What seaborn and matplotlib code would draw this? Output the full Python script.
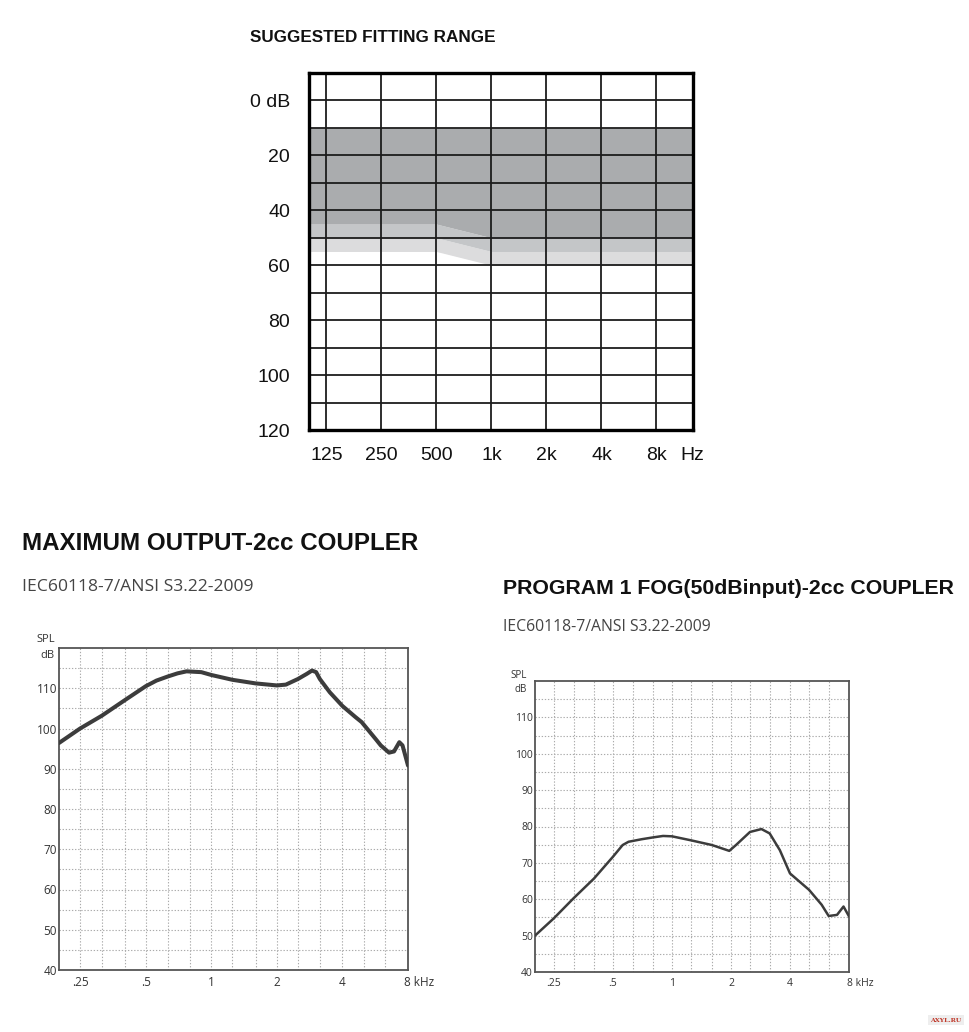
import numpy as np
import pandas as pd
import matplotlib
matplotlib.use('Agg')
import matplotlib.pyplot as plt
from matplotlib.ticker import NullLocator
import seaborn as sns

# ---------------- data ----------------
aud_freqs = [125, 250, 500, 1000, 2000, 4000, 8000]
aud_freq_labels = ['125', '250', '500', '1k', '2k', '4k', '8k']
aud_db_ticks = [0, 20, 40, 60, 80, 100, 120]
aud_db_labels = ['0 dB', '20', '40', '60', '80', '100', '120']
aud_db_lines = [0, 10, 20, 30, 40, 50, 60, 70, 80, 90, 100, 110]

# suggested fitting range (dB HL) per audiogram frequency
range_top = [10, 10, 10, 10, 10, 10, 10]
range_dark = [45, 45, 45, 50, 50, 50, 50]
range_mid = [50, 50, 50, 55, 55, 55, 55]
range_light = [55, 55, 55, 60, 60, 60, 60]

# maximum output (kHz, dB SPL)
mo_freq = [0.2, 0.25, 0.315, 0.4, 0.5, 0.56, 0.63, 0.7, 0.77, 0.9, 1.0, 1.25,
           1.6, 2.0, 2.2, 2.5, 2.75, 2.9, 3.03, 3.15, 3.5, 4.0, 4.6, 4.9, 5.7,
           6.0, 6.55, 6.9, 7.3, 7.55, 8.0]
mo_db = [96.4, 100.0, 103.2, 107.0, 110.5, 111.9, 112.9, 113.7, 114.2, 114.0,
         113.3, 112.1, 111.2, 110.7, 110.9, 112.3, 113.6, 114.4, 114.0, 112.3,
         109.0, 105.6, 102.8, 101.6, 97.3, 95.8, 94.0, 94.3, 96.6, 95.8, 90.8]

# program 1 FOG (50 dB input)
fog_freq = [0.2, 0.25, 0.315, 0.4, 0.5, 0.56, 0.6, 0.7, 0.8, 0.9, 1.0, 1.25,
            1.6, 1.96, 2.12, 2.5, 2.86, 3.15, 3.55, 4.0, 5.0, 5.8, 6.3, 6.95,
            7.5, 8.0]
fog_db = [50.0, 54.8, 60.3, 65.7, 71.7, 74.9, 75.8, 76.5, 77.0, 77.4, 77.3,
          76.2, 74.9, 73.3, 74.9, 78.5, 79.3, 78.1, 73.5, 67.1, 62.6, 58.5,
          55.4, 55.7, 58.0, 55.3]

spl_ticks = [40, 50, 60, 70, 80, 90, 100, 110]
khz_ticks = [0.25, 0.5, 1, 2, 4]
khz_labels = ['.25', '.5', '1', '2', '4']
third_oct = [0.25, 0.315, 0.4, 0.5, 0.63, 0.8, 1.0, 1.25, 1.6, 2.0, 2.5, 3.15,
             4.0, 5.0, 6.3]
grid_db = [45, 50, 55, 60, 65, 70, 75, 80, 85, 90, 95, 100, 105, 110, 115]

# ---------------- style ----------------
sns.set_style('white')
plt.rcParams['font.family'] = ['Liberation Sans', 'DejaVu Sans']

W, H = 970, 1032
fig = plt.figure(figsize=(W / 100, H / 100), dpi=100)
fig.patch.set_facecolor('white')


def ax_px(left, top, right, bottom):
    return fig.add_axes([left / W, 1 - bottom / H, (right - left) / W, (bottom - top) / H])


def ftext(x, y, s, **kw):
    kw.setdefault('va', 'center')
    fig.text(x / W, 1 - y / H, s, **kw)


# ---------------- top audiogram ----------------
ax = ax_px(309, 73, 693, 430)
ax.set_xscale('log')
xl = (100.4, 12680)
ax.set_xlim(*xl)
ax.set_ylim(120, -10)

bx = [xl[0]] + aud_freqs + [xl[1]]


def ext(v):
    return [v[0]] + list(v) + [v[-1]]


ax.fill_between(bx, ext(range_mid), ext(range_light), color='#dcdcdd', lw=0, zorder=1)
ax.fill_between(bx, ext(range_dark), ext(range_mid), color='#c4c6c8', lw=0, zorder=1)
ax.fill_between(bx, ext(range_top), ext(range_dark), color='#aaacae', lw=0, zorder=1)

for f in aud_freqs:
    ax.axvline(f, color='#1c1c1c', lw=1.3, zorder=3)
for d in aud_db_lines:
    ax.axhline(d, color='#1c1c1c', lw=1.3, zorder=3)

for s in ax.spines.values():
    s.set_color('black')
    s.set_linewidth(2.4)
    s.set_zorder(4)

ax.set_xticks(aud_freqs)
ax.set_xticklabels(aud_freq_labels)
ax.xaxis.set_minor_locator(NullLocator())
ax.set_yticks(aud_db_ticks)
ax.set_yticklabels(aud_db_labels)
ax.tick_params(axis='x', length=0, pad=12.5, labelsize=14, colors='#111111')
ax.tick_params(axis='y', length=0, pad=13.5, labelsize=14, colors='#111111')
for lab in ax.get_xticklabels():
    lab.set_x(lab.get_position()[0])
ax.grid(False)
ftext(692, 455, 'Hz', ha='center', fontsize=14, color='#111111')
ftext(250, 38, 'SUGGESTED FITTING RANGE', ha='left', fontsize=12.3, weight='bold', color='#111111')


# ---------------- bottom charts ----------------
def spl_chart(ax, freq, db, lw, tick_fs):
    ax.set_xscale('log')
    ax.set_xlim(0.2, 8)
    ax.set_ylim(40, 120)
    for f in third_oct:
        ax.axvline(f, color='#ababab', lw=0.8, ls=(0, (1.2, 1.6)), zorder=1)
    for d in grid_db:
        ax.axhline(d, color='#ababab', lw=0.8, ls=(0, (1.2, 1.6)), zorder=1)
    df = pd.DataFrame({'f': freq, 'db': db})
    sns.lineplot(data=df, x='f', y='db', ax=ax, color='#3c3c3c', linewidth=lw,
                 zorder=3, solid_capstyle='round', solid_joinstyle='round')
    ax.set_xlabel('')
    ax.set_ylabel('')
    ax.set_xticks(khz_ticks)
    ax.set_xticklabels(khz_labels)
    ax.xaxis.set_minor_locator(NullLocator())
    ax.set_yticks(spl_ticks)
    ax.tick_params(axis='x', length=0, pad=4, labelsize=tick_fs, colors='#333333')
    ax.tick_params(axis='y', length=0, pad=1.5, labelsize=tick_fs, colors='#333333')
    for s in ax.spines.values():
        s.set_color('#555555')
        s.set_linewidth(1.3)
    ax.grid(False)
    for lab in ax.get_xticklabels() + ax.get_yticklabels():
        lab.set_family(['Open Sans', 'DejaVu Sans'])


ax1 = ax_px(59, 648, 408, 970)
spl_chart(ax1, mo_freq, mo_db, 2.9, 8.5)
ax2 = ax_px(535, 681, 849, 972)
spl_chart(ax2, fog_freq, fog_db, 1.8, 7.5)

small = ['Open Sans', 'DejaVu Sans']
ftext(55, 640, 'SPL', ha='right', fontsize=8, color='#333333', family=small)
ftext(55, 656, 'dB', ha='right', fontsize=8, color='#333333', family=small)
ftext(404, 982, '8 kHz', ha='left', fontsize=8.5, color='#333333', family=small)

ftext(527, 675, 'SPL', ha='right', fontsize=7, color='#333333', family=small)
ftext(527, 689, 'dB', ha='right', fontsize=7, color='#333333', family=small)
ftext(847, 983, '8 kHz', ha='left', fontsize=7.5, color='#333333', family=small)

# titles
ftext(22, 544, 'MAXIMUM OUTPUT-2cc COUPLER', ha='left', fontsize=17.4, weight='bold', color='#111111')
ftext(22, 587, 'IEC60118-7/ANSI S3.22-2009', ha='left', fontsize=12.6, color='#444444', family=small)
ftext(503, 589, 'PROGRAM 1 FOG(50dBinput)-2cc COUPLER', ha='left', fontsize=15.3, weight='bold', color='#111111')
ftext(503, 627, 'IEC60118-7/ANSI S3.22-2009', ha='left', fontsize=11.3, color='#444444', family=small)

# watermark
ftext(946, 1020, 'AXYL.RU', ha='center', fontsize=4.5, weight='bold', color='#c0392b',
      family=['DejaVu Serif'], bbox=dict(facecolor='#eeeeee', edgecolor='none', pad=1.5))

fig.savefig('out.png', dpi=100, facecolor='white')
